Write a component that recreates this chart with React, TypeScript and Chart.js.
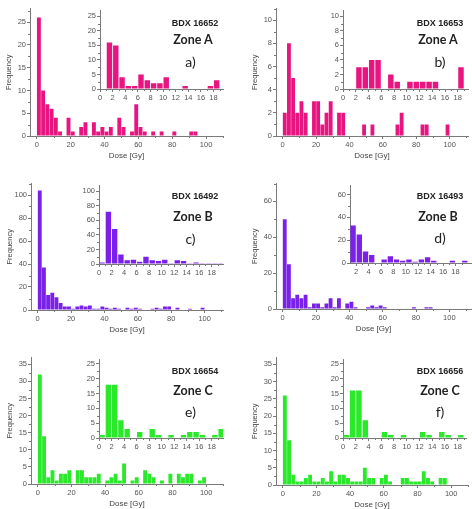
import React, { useEffect, useRef } from "react";
import { Chart, registerables } from "chart.js";
Chart.register(...registerables);

// ---- data ----
const MAIN_BIN = 2.5; // Gy
const INSET_BIN = 1; // Gy

const mainA = [26,10,7,6,4,1,0,4,1,0,2,3,0,3,1,2,1,2,0,4,2,0,1,7,2,1,0,1,0,1,0,0,1,0,0,0,1,1];
const insetA = [0,16,15,4,1,1,5,3,2,2,4,0,0,1,0,0,0,1,3];
const mainB = [2,8,5,2,3,2,0,3,3,1,2,3,0,2,2,0,0,0,0,1,0,1,0,0,0,0,0,1,2,0,0,0,0,1,1,0,0,0,0,1];
const insetB = [0,0,3,3,4,4,0,2,1,0,1,1,1,1,1,0,0,0,3];
const mainC = [104,37,13,15,11,6,3,3,1,3,4,3,4,1,1,3,2,1,2,1,0,2,1,2,1,0,0,1,2,1,3,3,0,2,0,0,1,0,0,2];
const insetC = [2,72,48,13,5,6,3,10,5,4,6,1,5,4,1,2,1,1,1,1];
const mainD = [50,25,6,8,6,8,1,3,3,1,3,6,1,6,0,3,4,1,0,0,1,2,1,2,1,0,0,0,0,0,0,1,0,0,1,1];
const insetD = [0,33,25,10,7,0,3,6,3,2,3,1,3,5,2,0,0,2,0,2];
const mainE = [32,14,2,4,1,3,3,4,0,4,4,2,2,2,3,0,1,2,3,1,6,0,1,2,0,4,3,2,0,1,0,3,0,3,2,3,3,0,1,2];
const insetE = [1,18,18,6,3,0,2,0,3,1,0,1,0,1,2,2,1,0,1,3];
const mainF = [26,13,3,1,1,2,3,1,1,2,1,4,1,3,3,2,1,1,1,5,2,2,0,2,3,1,0,0,2,2,1,1,1,4,2,1,0,2,2];
const insetF = [1,16,16,6,0,0,2,1,0,1,0,0,2,1,0,2,1,0,1];

const mainXTicks = [0, 20, 40, 60, 80, 100];
const insetXTicks = [0, 2, 4, 6, 8, 10, 12, 14, 16, 18];
const insetXTicksD = [2, 4, 6, 8, 10, 12, 14, 16, 18];
const yTicks25 = [0, 5, 10, 15, 20, 25];
const yTicks10 = [0, 2, 4, 6, 8, 10];
const yTicks100 = [0, 20, 40, 60, 80, 100];
const yTicks60 = [0, 20, 40, 60];
const yTicks35 = [0, 5, 10, 15, 20, 25, 30, 35];

const samples = ["BDX 16652", "BDX 16653", "BDX 16492", "BDX 16493", "BDX 16654", "BDX 16656"];
const zones = ["Zone A", "Zone A", "Zone B", "Zone B", "Zone C", "Zone C"];
const letters = ["a)", "b)", "c)", "d)", "e)", "f)"];

const PINK = "#E8147F";
const PURPLE = "#7A20E8";
const GREEN = "#2AE82A";
const AXIS = "#7a7a7a";
const TEXT = "#555";
const FONT = "'Liberation Sans', Arial, sans-serif";

type Spec = {
  values: number[];
  bin: number;
  main: boolean;
  color: string;
  xTicks: number[];
  yTicks: number[];
  xMin: number;
  xMax: number;
  yMax: number;
  plotL: number;
  plotR: number;
  plotT: number;
  plotB: number;
};

function midpoints(t: number[]) {
  const out: number[] = [];
  for (let i = 0; i < t.length; i++) {
    const step = i > 0 ? t[i] - t[i - 1] : t[1] - t[0];
    out.push(t[i] + step / 2);
  }
  return out;
}

const minorTickPlugin = {
  id: "minorTicks",
  afterDraw(chart: any, _args: any, opts: any) {
    if (!opts || !opts.enabled) return;
    const { ctx, scales } = chart;
    const x = scales.x;
    const y = scales.y;
    ctx.save();
    ctx.strokeStyle = AXIS;
    ctx.lineWidth = 1;
    ctx.beginPath();
    for (const v of opts.x as number[]) {
      if (v < x.min || v > x.max) continue;
      const px = Math.round(x.getPixelForValue(v)) + 0.5;
      ctx.moveTo(px, y.bottom);
      ctx.lineTo(px, y.bottom + 2);
    }
    for (const v of opts.y as number[]) {
      if (v < y.min || v > y.max) continue;
      const py = Math.round(y.getPixelForValue(v)) + 0.5;
      ctx.moveTo(x.left, py);
      ctx.lineTo(x.left - 2, py);
    }
    ctx.stroke();
    ctx.restore();
  },
};

function Histo({ spec }: { spec: Spec }) {
  const ref = useRef<HTMLCanvasElement | null>(null);
  const yW = spec.main ? 30 : 17;
  const xH = spec.main ? 26 : 12;
  const padT = spec.main ? 4 : 5;
  const padR = Math.max(1, Math.min(spec.main ? 8 : 4, 472 - spec.plotR));
  const left = spec.plotL - yW;
  const top = spec.plotT - padT;
  const width = spec.plotR - spec.plotL + yW + padR;
  const height = spec.plotB - spec.plotT + padT + xH;
  const barPct = spec.main ? 0.92 : 0.86;

  useEffect(() => {
    if (!ref.current) return;
    const tickFont = { family: FONT, size: 7.5 };
    const chart = new Chart(ref.current, {
      type: "bar",
      data: {
        datasets: [
          {
            data: spec.values.map((v, i) => ({ x: i * spec.bin + spec.bin / 2, y: v })),
            backgroundColor: spec.color,
            borderWidth: 0,
            barPercentage: barPct,
            categoryPercentage: 1,
          } as any,
        ],
      },
      options: {
        responsive: false,
        maintainAspectRatio: false,
        animation: false,
        devicePixelRatio: 1,
        datasets: { bar: { barPercentage: barPct, categoryPercentage: 1 } },
        layout: { padding: { top: padT, right: padR, left: 0, bottom: 0 }, autoPadding: false } as any,
        plugins: {
          legend: { display: false },
          tooltip: { enabled: false },
          minorTicks: {
            enabled: true,
            x: midpoints(spec.xTicks),
            y: midpoints(spec.yTicks),
          },
        } as any,
        scales: {
          x: {
            type: "linear",
            min: spec.xMin,
            max: spec.xMax,
            offset: false,
            grid: { offset: false, drawOnChartArea: false, tickLength: 3, color: AXIS },
            border: { color: AXIS, width: 1 },
            ticks: { font: tickFont, color: TEXT, padding: 1, maxRotation: 0, autoSkip: false },
            afterBuildTicks: (s: any) => {
              s.ticks = spec.xTicks.map((v) => ({ value: v }));
            },
            afterFit: (s: any) => {
              s.height = xH;
            },
            title: {
              display: spec.main,
              text: "Dose [Gy]",
              font: { family: FONT, size: 8 },
              color: "#444",
              padding: { top: 0, bottom: 1 },
            },
          } as any,
          y: {
            type: "linear",
            min: 0,
            max: spec.yMax,
            grid: { drawOnChartArea: false, tickLength: 3, color: AXIS },
            border: { color: AXIS, width: 1 },
            ticks: { font: tickFont, color: TEXT, padding: 1, autoSkip: false },
            afterBuildTicks: (s: any) => {
              s.ticks = spec.yTicks.map((v) => ({ value: v }));
            },
            afterFit: (s: any) => {
              s.width = yW;
            },
            title: {
              display: spec.main,
              text: "Frequency",
              font: { family: FONT, size: 7.5 },
              color: "#444",
              padding: { top: 4, bottom: 0 },
            },
          } as any,
        },
      } as any,
      plugins: [minorTickPlugin],
    });
    return () => chart.destroy();
  }, []);

  return (
    <canvas
      ref={ref}
      width={width}
      height={height}
      style={{ position: "absolute", left, top, width, height }}
    />
  );
}

const mainSpecs: Spec[] = [
  { values: mainA, bin: MAIN_BIN, main: true, color: PINK, xTicks: mainXTicks, yTicks: yTicks25, xMin: -4, xMax: 110, yMax: 28, plotL: 30, plotR: 223, plotT: 7, plotB: 136 },
  { values: mainB, bin: MAIN_BIN, main: true, color: PINK, xTicks: mainXTicks, yTicks: yTicks10, xMin: -4, xMax: 111, yMax: 11, plotL: 276, plotR: 468, plotT: 7, plotB: 136 },
  { values: mainC, bin: MAIN_BIN, main: true, color: PURPLE, xTicks: mainXTicks, yTicks: yTicks100, xMin: -4, xMax: 111, yMax: 110, plotL: 31, plotR: 223, plotT: 182, plotB: 310 },
  { values: mainD, bin: MAIN_BIN, main: true, color: PURPLE, xTicks: mainXTicks, yTicks: yTicks60, xMin: -4, xMax: 113, yMax: 70, plotL: 276, plotR: 471, plotT: 182, plotB: 309 },
  { values: mainE, bin: MAIN_BIN, main: true, color: GREEN, xTicks: mainXTicks, yTicks: yTicks35, xMin: -4, xMax: 110, yMax: 37, plotL: 31, plotR: 223, plotT: 356, plotB: 484 },
  { values: mainF, bin: MAIN_BIN, main: true, color: GREEN, xTicks: mainXTicks, yTicks: yTicks35, xMin: -4, xMax: 110, yMax: 37, plotL: 276, plotR: 468, plotT: 356, plotB: 485 },
];

const insetSpecs: Spec[] = [
  { values: insetA, bin: INSET_BIN, main: false, color: PINK, xTicks: insetXTicks, yTicks: yTicks25, xMin: 0, xMax: 19.5, yMax: 27, plotL: 100, plotR: 223, plotT: 10, plotB: 89 },
  { values: insetB, bin: INSET_BIN, main: false, color: PINK, xTicks: insetXTicks, yTicks: yTicks10, xMin: 0, xMax: 19.6, yMax: 10.8, plotL: 343, plotR: 468, plotT: 10, plotB: 89 },
  { values: insetC, bin: INSET_BIN, main: false, color: PURPLE, xTicks: insetXTicks, yTicks: yTicks100, xMin: 0, xMax: 19.8, yMax: 108, plotL: 99, plotR: 223, plotT: 185, plotB: 264 },
  { values: insetD, bin: INSET_BIN, main: false, color: PURPLE, xTicks: insetXTicksD, yTicks: yTicks60, xMin: 1, xMax: 20.5, yMax: 68, plotL: 350, plotR: 471, plotT: 185, plotB: 263 },
  { values: insetE, bin: INSET_BIN, main: false, color: GREEN, xTicks: insetXTicks, yTicks: yTicks25, xMin: 0, xMax: 19.8, yMax: 26.5, plotL: 99, plotR: 223, plotT: 359, plotB: 438 },
  { values: insetF, bin: INSET_BIN, main: false, color: GREEN, xTicks: insetXTicks, yTicks: yTicks25, xMin: 0, xMax: 19.3, yMax: 26.5, plotL: 343, plotR: 466, plotT: 359, plotB: 438 },
];

const labelPos = [
  { x1: 195, x2: 193, x3: 190.5, y1: 22.5, y2: 40, y3: 61.5 },
  { x1: 440, x2: 438, x3: 440, y1: 22.5, y2: 40, y3: 61.5 },
  { x1: 195, x2: 193, x3: 190.5, y1: 196, y2: 216.5, y3: 238.5 },
  { x1: 440, x2: 438, x3: 440, y1: 196, y2: 216.5, y3: 237.5 },
  { x1: 195, x2: 193, x3: 190.5, y1: 370.5, y2: 391, y3: 411.5 },
  { x1: 440, x2: 440, x3: 440, y1: 370.5, y2: 391, y3: 411.5 },
];

function Label({ x, y, text, style }: { x: number; y: number; text: string; style: React.CSSProperties }) {
  return (
    <div
      style={{
        position: "absolute",
        left: x,
        top: y,
        transform: "translate(-50%, -50%)",
        whiteSpace: "nowrap",
        lineHeight: 1,
        color: "#222",
        ...style,
      }}
    >
      {text}
    </div>
  );
}

export default function App() {
  return (
    <div
      style={{
        position: "absolute",
        left: 0,
        top: 0,
        width: 472,
        height: 509,
        background: "#fff",
        overflow: "hidden",
      }}
    >
      {mainSpecs.map((s, i) => (
        <Histo key={"m" + i} spec={s} />
      ))}
      {insetSpecs.map((s, i) => (
        <Histo key={"i" + i} spec={s} />
      ))}
      {labelPos.map((p, i) => (
        <React.Fragment key={"l" + i}>
          <Label x={p.x1} y={p.y1} text={samples[i]} style={{ fontFamily: FONT, fontWeight: 700, fontSize: 9 }} />
          <Label x={p.x2} y={p.y2} text={zones[i]} style={{ fontFamily: "Lato, 'Open Sans', sans-serif", fontWeight: 700, fontSize: 12.5 }} />
          <Label x={p.x3} y={p.y3} text={letters[i]} style={{ fontFamily: "Lato, 'Open Sans', sans-serif", fontWeight: 400, fontSize: 14 }} />
        </React.Fragment>
      ))}
    </div>
  );
}
